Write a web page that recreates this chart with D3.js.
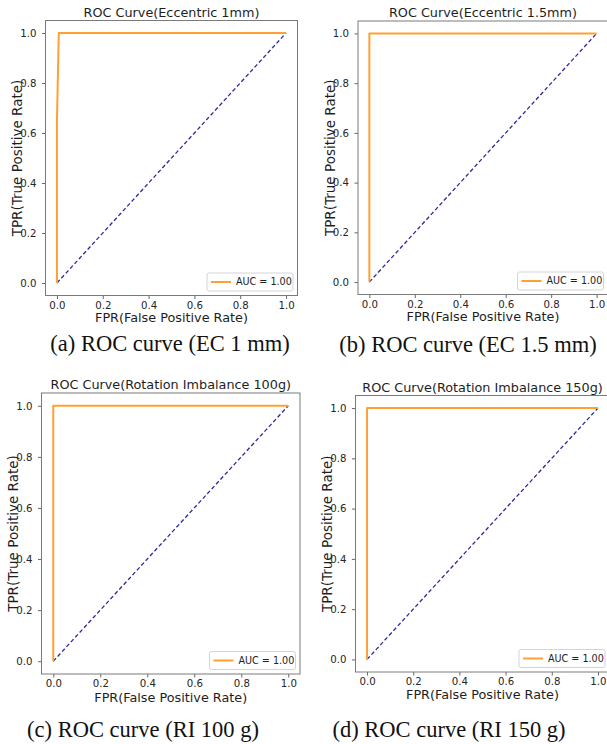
<!doctype html>
<html lang="en">
<head>
    <meta charset="utf-8">
    <title>ROC curves</title>
    <script src="https://d3js.org/d3.v7.min.js"></script>
    <style>
        body { margin: 0; padding: 0; background: #fff; }
        svg { display: block; }
        .tick text { font-family: 'DejaVu Sans', sans-serif; font-size: 10.2px; fill: #262626; }
        .tick line { stroke: #666; }
        .title, .axis-label { font-family: 'DejaVu Sans', sans-serif; fill: #1e1e1e; }
        .caption { font-family: 'Liberation Serif', 'Times New Roman', serif; font-size: 22.5px; fill: #111; }
    </style>
</head>
<body>
    <div class="home"></div>
    <script>
        // chart data
        const titles = ["ROC Curve(Eccentric 1mm)", "ROC Curve(Eccentric 1.5mm)",
                        "ROC Curve(Rotation Imbalance 100g)", "ROC Curve(Rotation Imbalance 150g)"];
        const captions = ["(a) ROC curve (EC 1 mm)", "(b) ROC curve (EC 1.5 mm)",
                          "(c) ROC curve (RI 100 g)", "(d) ROC curve (RI 150 g)"];
        const aucLabels = ["AUC = 1.00", "AUC = 1.00", "AUC = 1.00", "AUC = 1.00"];
        const fprA = [0, 0, 0.003, 0.008, 1];
        const tprA = [0, 0.65, 0.78, 1, 1];
        const fprB = [0, 0, 1];
        const tprB = [0, 1, 1];
        const fprC = [0, 0, 1];
        const tprC = [0, 1, 1];
        const fprD = [0, 0, 1];
        const tprD = [0, 1, 1];
        const chance = [0, 1];
        const tickValues = [0, 0.2, 0.4, 0.6, 0.8, 1.0];

        const fprs = [fprA, fprB, fprC, fprD];
        const tprs = [tprA, tprB, tprC, tprD];

        // frame of each subplot, plus caption placement
        const frames = [
            {left: 45.5, right: 297.5, top: 20.5, bottom: 295.5, capX: 170, capY: 351, xlabY: 321.5},
            {left: 358, right: 608, top: 21, bottom: 294.5, capX: 468, capY: 352, xlabY: 320.5},
            {left: 41.5, right: 300, top: 393, bottom: 674, capX: 143, capY: 737, xlabY: 701.5},
            {left: 355.5, right: 609.5, top: 395.5, bottom: 672, capX: 449, capY: 737, xlabY: 699}
        ];

        const width = 607, height = 744;
        const svg = d3.select(".home").append("svg")
            .attr("width", width)
            .attr("height", height);

        const orange = "#ffa033";
        const navy = "#2a2a9c";
        const fmt = d3.format(".1f");

        frames.forEach(function (f, i) {
            const g = svg.append("g").attr("class", "panel");

            const x = d3.scaleLinear().domain([-0.05, 1.05]).range([f.left, f.right]);
            const y = d3.scaleLinear().domain([-0.05, 1.05]).range([f.bottom, f.top]);

            // axes
            const xAxis = g.append("g")
                .attr("transform", "translate(0," + f.bottom + ")")
                .call(d3.axisBottom(x).tickValues(tickValues).tickFormat(fmt).tickSize(3.5).tickPadding(2.5));
            xAxis.select(".domain").remove();

            const yAxis = g.append("g")
                .attr("transform", "translate(" + f.left + ",0)")
                .call(d3.axisLeft(y).tickValues(tickValues).tickFormat(fmt).tickSize(3.5).tickPadding(5.5));
            yAxis.select(".domain").remove();

            // data lines
            const pts = fprs[i].map(function (v, j) { return [v, tprs[i][j]]; });
            const line = d3.line().x(d => x(d[0])).y(d => y(d[1]));

            g.append("path")
                .datum(chance.map(v => [v, v]))
                .attr("d", line)
                .attr("fill", "none")
                .attr("stroke", navy)
                .attr("stroke-width", 1.3)
                .attr("stroke-dasharray", "4,2.5");

            g.append("path")
                .datum(pts)
                .attr("d", line)
                .attr("fill", "none")
                .attr("stroke", orange)
                .attr("stroke-width", 2)
                .attr("stroke-linejoin", "round");

            // frame
            g.append("rect")
                .attr("x", f.left)
                .attr("y", f.top)
                .attr("width", f.right - f.left)
                .attr("height", f.bottom - f.top)
                .attr("fill", "none")
                .attr("stroke", "#7a7a7a")
                .attr("stroke-width", 1);

            // legend, bottom right
            const lw = 86, lh = 18;
            const lx = f.right - 4.5 - lw, ly = f.bottom - 4.5 - lh;
            g.append("rect")
                .attr("x", lx).attr("y", ly)
                .attr("width", lw).attr("height", lh)
                .attr("rx", 2)
                .attr("fill", "#fff").attr("fill-opacity", 0.85)
                .attr("stroke", "#d4d4d4").attr("stroke-width", 1);
            g.append("line")
                .attr("x1", lx + 4).attr("x2", lx + 24)
                .attr("y1", ly + lh / 2).attr("y2", ly + lh / 2)
                .attr("stroke", orange).attr("stroke-width", 2);
            g.append("text")
                .attr("x", lx + 29).attr("y", ly + lh / 2)
                .attr("dy", "0.35em")
                .style("font-family", "'DejaVu Sans', sans-serif")
                .style("font-size", "9.6px")
                .style("fill", "#1e1e1e")
                .text(aucLabels[i]);

            // title and axis labels
            g.append("text")
                .attr("class", "title")
                .attr("x", (f.left + f.right) / 2)
                .attr("y", f.top - 4)
                .attr("text-anchor", "middle")
                .style("font-size", "12.8px")
                .text(titles[i]);

            g.append("text")
                .attr("class", "axis-label")
                .attr("x", (f.left + f.right) / 2)
                .attr("y", f.xlabY)
                .attr("text-anchor", "middle")
                .style("font-size", "12.8px")
                .text("FPR(False Positive Rate)");

            g.append("text")
                .attr("class", "axis-label")
                .attr("transform", "translate(" + (f.left - 23.5) + "," + ((f.top + f.bottom) / 2) + ") rotate(-90)")
                .attr("text-anchor", "middle")
                .style("font-size", "13.5px")
                .text("TPR(True Positive Rate)");

            // caption under the subplot
            svg.append("text")
                .attr("class", "caption")
                .attr("x", f.capX)
                .attr("y", f.capY)
                .attr("text-anchor", "middle")
                .text(captions[i]);
        });
    </script>
</body>
</html>
